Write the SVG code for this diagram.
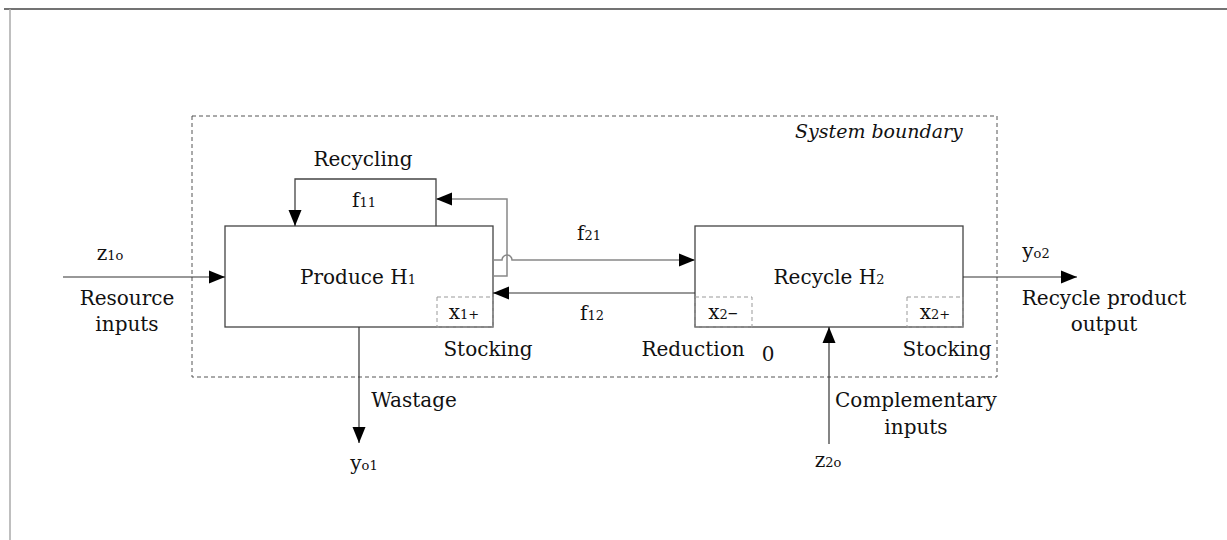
<svg xmlns="http://www.w3.org/2000/svg" width="1227" height="540" viewBox="0 0 1227 540">
<style>
text{font-family:"DejaVu Serif","Liberation Serif",serif;font-size:20px;fill:#111}
.s{font-size:13px}
.it{font-style:italic;font-size:19px}
.box{fill:none;stroke:#444;stroke-width:1.3}
.dash{fill:none;stroke:#999;stroke-width:1;stroke-dasharray:4 3}
.bnd{fill:none;stroke:#555;stroke-width:1;stroke-dasharray:4 3}
.ln{fill:none;stroke:#333;stroke-width:1.2}
.gl{fill:none;stroke:#888;stroke-width:1.5}
</style>
<defs>
<marker id="ah" markerUnits="userSpaceOnUse" markerWidth="16" markerHeight="14" refX="16" refY="7" orient="auto">
<path d="M0,0.5 L16,7 L0,13.5 Z" fill="#000"/>
</marker>
</defs>
<g id="frame">
<line x1="4" y1="9" x2="1227" y2="9" stroke="#444" stroke-width="1.5"/>
<line x1="10" y1="9" x2="10" y2="540" stroke="#aaa" stroke-width="1.5"/>
</g>
<g id="boundary">
<rect class="bnd" x="192" y="116" width="805" height="261"/>
<text class="it" x="795" y="138">System boundary</text>
</g>
<g id="produce">
<rect class="box" x="225" y="226" width="268" height="101"/>
<text x="358" y="284" text-anchor="middle">Produce H<tspan class="s">1</tspan></text>
<rect class="dash" x="437" y="297" width="56" height="30"/>
<text x="464" y="319" text-anchor="middle">x<tspan class="s">1+</tspan></text>
</g>
<g id="recycle">
<rect class="box" x="695" y="226" width="268" height="101"/>
<text x="829" y="284" text-anchor="middle">Recycle H<tspan class="s">2</tspan></text>
<rect class="dash" x="695" y="297" width="57" height="30"/>
<text x="723" y="319" text-anchor="middle">x<tspan class="s">2</tspan>–</text>
<rect class="dash" x="907" y="297" width="56" height="30"/>
<text x="935" y="319" text-anchor="middle">x<tspan class="s">2+</tspan></text>
</g>
<g id="connectors">
<path class="box" d="M436,226 V179 H295 V226" marker-end="url(#ah)"/>
<path class="gl" d="M493,276 H507 V199 H436" marker-end="url(#ah)"/>
<path class="gl" d="M493,260 H502 A5,5 0 0 1 512,260 H695" marker-end="url(#ah)"/>
<path class="ln" d="M695,293 H493" marker-end="url(#ah)"/>
<path class="ln" d="M63,277 H225" marker-end="url(#ah)"/>
<path class="ln" d="M963,277 H1077" marker-end="url(#ah)"/>
<path class="ln" d="M359,327 V443" marker-end="url(#ah)"/>
<path class="ln" d="M829,444 V327" marker-end="url(#ah)"/>
</g>
<g id="labels">
<text x="363" y="166" text-anchor="middle">Recycling</text>
<text x="364" y="207" text-anchor="middle">f<tspan class="s">11</tspan></text>
<text x="589" y="240" text-anchor="middle">f<tspan class="s">21</tspan></text>
<text x="592" y="320" text-anchor="middle">f<tspan class="s">12</tspan></text>
<text x="110" y="260" text-anchor="middle">z<tspan class="s">1o</tspan></text>
<text x="127" y="305" text-anchor="middle">Resource</text>
<text x="127" y="331" text-anchor="middle">inputs</text>
<text x="488" y="356" text-anchor="middle">Stocking</text>
<text x="693" y="356" text-anchor="middle">Reduction</text>
<text x="768" y="361" text-anchor="middle">0</text>
<text x="947" y="356" text-anchor="middle">Stocking</text>
<text x="414" y="407" text-anchor="middle">Wastage</text>
<text x="364" y="470" text-anchor="middle">y<tspan class="s">o1</tspan></text>
<text x="916" y="407" text-anchor="middle">Complementary</text>
<text x="916" y="434" text-anchor="middle">inputs</text>
<text x="828" y="467" text-anchor="middle">z<tspan class="s">2o</tspan></text>
<text x="1036" y="258" text-anchor="middle">y<tspan class="s">o2</tspan></text>
<text x="1104" y="305" text-anchor="middle">Recycle product</text>
<text x="1104" y="331" text-anchor="middle">output</text>
</g>
</svg>
